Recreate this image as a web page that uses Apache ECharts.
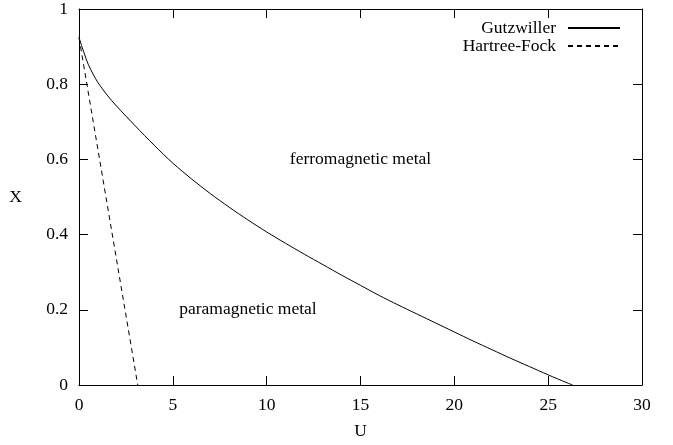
<!DOCTYPE html>
<html>
<head>
<meta charset="utf-8">
<script src="https://cdn.jsdelivr.net/npm/echarts@6/dist/echarts.min.js"></script>
<style>
html,body{margin:0;padding:0;background:#fff;}
#c{width:673px;height:445px;}
</style>
</head>
<body>
<div id="c"></div>
<script>
// Gutzwiller boundary (U, X)
const gutzU = [0, 0.25, 0.5, 0.75, 1, 1.5, 2, 3, 4, 5, 6, 7, 8, 9, 10, 11, 12, 13, 14, 15, 16, 17, 18, 19, 20, 21, 22, 23, 24, 25, 26, 26.3];
const gutzX = [0.924, 0.886, 0.852, 0.827, 0.805, 0.771, 0.742, 0.689, 0.638, 0.59, 0.548, 0.509, 0.473, 0.439, 0.407, 0.377, 0.348, 0.32, 0.292, 0.265, 0.238, 0.213, 0.189, 0.165, 0.141, 0.117, 0.094, 0.071, 0.049, 0.027, 0.006, 0];
// Hartree-Fock boundary (U, X)
const hfU = [0, 3.13];
const hfX = [0.924, 0];
// Region labels
const regionNames = ['ferromagnetic metal', 'paramagnetic metal'];
const regionU = [15, 9];
const regionX = [0.6, 0.2];
// Ticks
const xTicks = [0, 5, 10, 15, 20, 25, 30];
const yTicks = [0, 0.2, 0.4, 0.6, 0.8, 1];

const FONT = 'Liberation Serif';
const FS = 17.5;

const chart = echarts.init(document.getElementById('c'), null, {renderer: 'canvas'});

const axisCommon = {
  axisLine: {show: true, onZero: false, lineStyle: {color: '#000', width: 1}},
  axisTick: {show: true, inside: true, length: 9, lineStyle: {color: '#000', width: 1}},
  splitLine: {show: false},
  min: 0
};

const option = {
  animation: false,
  backgroundColor: '#fff',
  textStyle: {fontFamily: FONT},
  grid: {left: 79, right: 31, top: 9, bottom: 55, containLabel: false},
  legend: {
    orient: 'vertical',
    right: 47,
    top: 14,
    align: 'right',
    itemWidth: 52,
    itemHeight: 10,
    itemGap: 0,
    data: ['Gutzwiller', 'Hartree-Fock'],
    itemStyle: {opacity: 0},
    textStyle: {fontFamily: FONT, fontSize: FS, color: '#000', padding: [0, 7, 0, 0]}
  },
  xAxis: [
    Object.assign({}, axisCommon, {
      type: 'value', position: 'bottom', max: 30, interval: 5,
      name: 'U', nameLocation: 'middle', nameGap: 37,
      nameTextStyle: {fontFamily: FONT, fontSize: FS, color: '#000'},
      axisLabel: {show: true, margin: 11, fontFamily: FONT, fontSize: FS, color: '#000',
        formatter: v => xTicks.includes(v) ? String(v) : ''}
    }),
    Object.assign({}, axisCommon, {
      type: 'value', position: 'top', max: 30, interval: 5,
      axisLabel: {show: false}
    })
  ],
  yAxis: [
    Object.assign({}, axisCommon, {
      type: 'value', position: 'left', max: 1, interval: 0.2,
      name: 'X', nameLocation: 'middle', nameGap: 57, nameRotate: 0,
      nameTextStyle: {fontFamily: FONT, fontSize: FS, color: '#000', padding: [6, 0, 0, 0]},
      axisLabel: {show: true, margin: 11, fontFamily: FONT, fontSize: FS, color: '#000',
        formatter: v => { const t = yTicks.find(y => Math.abs(y - v) < 1e-9); return t === undefined ? '' : String(t); }}
    }),
    Object.assign({}, axisCommon, {
      type: 'value', position: 'right', max: 1, interval: 0.2,
      axisLabel: {show: false}
    })
  ],
  series: [
    {
      name: 'Gutzwiller', type: 'line', xAxisIndex: 0, yAxisIndex: 0,
      data: gutzU.map((u, i) => [u, gutzX[i]]),
      smooth: 0.3, showSymbol: false, symbol: 'none',
      lineStyle: {color: '#000', width: 1},
      itemStyle: {color: '#000'}
    },
    {
      name: 'Hartree-Fock', type: 'line', xAxisIndex: 0, yAxisIndex: 0,
      data: hfU.map((u, i) => [u, hfX[i]]),
      showSymbol: false, symbol: 'none',
      lineStyle: {color: '#000', width: 1, type: [5, 4]},
      itemStyle: {color: '#000'}
    },
    {
      name: 'regions', type: 'scatter', xAxisIndex: 0, yAxisIndex: 0,
      symbolSize: 0, silent: true,
      itemStyle: {color: '#000', opacity: 1},
      data: regionU.map((u, i) => ({value: [u, regionX[i]], name: regionNames[i]})),
      label: {show: true, position: 'inside', formatter: p => p.name,
        fontFamily: FONT, fontSize: FS, color: '#000', textBorderWidth: 0, opacity: 1}
    }
  ]
};
chart.setOption(option);
</script>
</body>
</html>
